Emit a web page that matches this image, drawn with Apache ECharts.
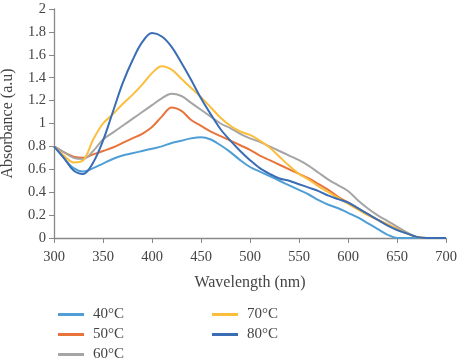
<!DOCTYPE html>
<html><head><meta charset="utf-8">
<script src="https://cdn.jsdelivr.net/npm/echarts@6/dist/echarts.min.js"></script>
<style>html,body{margin:0;padding:0;background:#fff}#c{width:459px;height:358px}</style>
</head><body><div id="c"></div>
<script>
var wavelengths = [300,310,320,330,340,350,360,370,380,390,400,410,420,430,440,450,460,470,480,490,500,510,520,530,540,550,560,570,580,590,600,610,620,630,640,650,660,670,680,690,700];
var s40 = [0.80,0.70,0.61,0.58,0.61,0.65,0.69,0.72,0.74,0.76,0.78,0.80,0.83,0.85,0.87,0.88,0.86,0.81,0.75,0.68,0.62,0.58,0.54,0.50,0.46,0.42,0.38,0.33,0.29,0.26,0.22,0.18,0.13,0.08,0.03,0.00,0,0,0,0,0];
var s50 = [0.80,0.75,0.71,0.70,0.73,0.76,0.79,0.83,0.87,0.91,0.97,1.06,1.14,1.11,1.03,0.98,0.93,0.89,0.85,0.81,0.77,0.72,0.68,0.64,0.60,0.56,0.52,0.47,0.42,0.36,0.31,0.26,0.21,0.16,0.12,0.08,0.04,0.01,0,0,0];
var s60 = [0.80,0.75,0.70,0.69,0.76,0.86,0.92,0.98,1.04,1.10,1.16,1.22,1.26,1.24,1.18,1.12,1.06,1.00,0.96,0.91,0.87,0.84,0.80,0.76,0.72,0.68,0.63,0.57,0.51,0.46,0.41,0.33,0.26,0.20,0.15,0.10,0.05,0.01,0,0,0];
var s70 = [0.80,0.72,0.66,0.68,0.86,1.00,1.08,1.17,1.25,1.34,1.44,1.50,1.47,1.39,1.31,1.23,1.14,1.05,0.98,0.93,0.90,0.85,0.79,0.71,0.63,0.56,0.51,0.45,0.40,0.35,0.30,0.25,0.20,0.16,0.12,0.08,0.04,0.01,0,0,0];
var s80 = [0.80,0.70,0.59,0.56,0.66,0.85,1.10,1.35,1.55,1.71,1.79,1.76,1.67,1.53,1.38,1.22,1.08,0.95,0.85,0.76,0.68,0.61,0.56,0.52,0.50,0.47,0.44,0.41,0.37,0.34,0.31,0.26,0.21,0.16,0.11,0.07,0.04,0.01,0,0,0];
var names = ['40°C','50°C','60°C','70°C','80°C'];
var colors = ['#4F9FD6','#E8743B','#A5A5A5','#FBBE3C','#3B6DB4'];
var yTicks = ['0','0.2','0.4','0.6','0.8','1','1.2','1.4','1.6','1.8','2'];
var all = [s40,s50,s60,s70,s80];

var font = 'Liberation Serif';
var series = all.map(function(v,i){
  return {name:names[i], type:'line', smooth:0.35, showSymbol:false, symbol:'none',
    lineStyle:{width:2,color:colors[i]}, itemStyle:{color:colors[i]},
    data: wavelengths.map(function(w,j){return [w,v[j]];})};
});
function legendCfg(data,left){
  return {data:data, left:left, top:302, height:62, orient:'vertical', itemWidth:26, itemHeight:3, itemGap:5, icon:'rect',
    textStyle:{fontFamily:font,fontSize:15,lineHeight:14,color:'#444',padding:[0,0,0,4]}};
}
var chart = echarts.init(document.getElementById('c'));
chart.setOption({
  animation:false,
  grid:{left:54,right:13,top:9,bottom:120,containLabel:false,outerBoundsMode:'none'},
  legend:[legendCfg(names.slice(0,3),53), legendCfg(names.slice(3),207)],
  xAxis:{type:'value', min:300, max:700, interval:50,
    name:'Wavelength (nm)', nameLocation:'middle', nameGap:37,
    nameTextStyle:{fontFamily:font,fontSize:16,color:'#444'},
    axisLine:{lineStyle:{color:'#888',width:1.3}}, axisTick:{show:true,length:5,lineStyle:{color:'#888'}},
    splitLine:{show:false},
    axisLabel:{fontFamily:font,fontSize:14.5,color:'#444',margin:12}},
  yAxis:{type:'value', min:0, max:2, interval:0.2,
    name:'Absorbance (a.u)', nameLocation:'middle', nameGap:38,
    nameTextStyle:{fontFamily:font,fontSize:16,color:'#444'},
    axisLine:{show:true,lineStyle:{color:'#888',width:1.3}}, axisTick:{show:true,length:5,lineStyle:{color:'#888'}},
    splitLine:{show:false},
    axisLabel:{fontFamily:font,fontSize:14.5,color:'#444',margin:8,
      formatter:function(v){var i=Math.round(v/0.2);return yTicks[i];}}},
  series:series
});
</script></body></html>
